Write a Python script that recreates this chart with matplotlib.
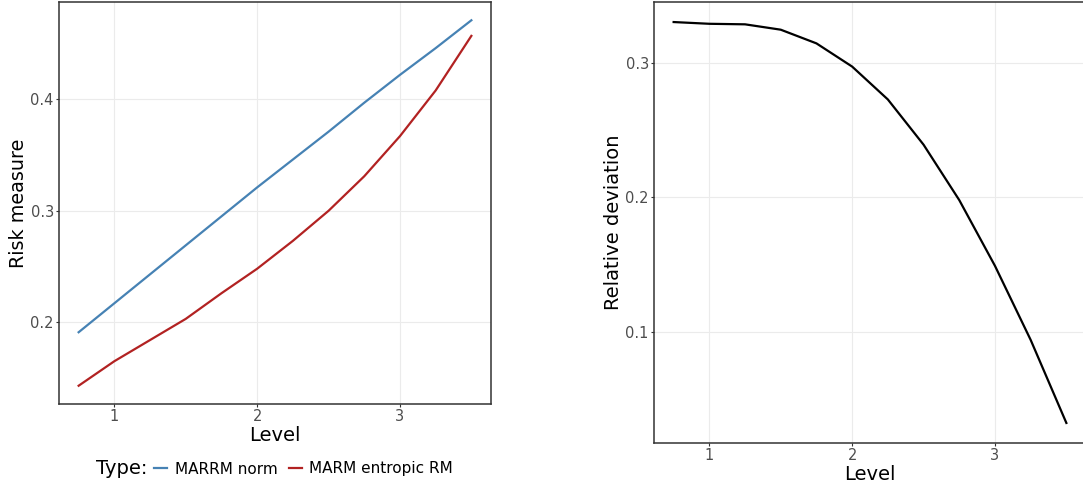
import matplotlib.pyplot as plt
from matplotlib.lines import Line2D

level = [0.75, 1.0, 1.25, 1.5, 1.75, 2.0, 2.25, 2.5, 2.75, 3.0, 3.25, 3.5]
marrm_norm = [0.191, 0.217, 0.243, 0.269, 0.295, 0.321, 0.346, 0.371, 0.397, 0.422, 0.446, 0.471]
marm_entropic = [0.143, 0.165, 0.184, 0.203, 0.226, 0.248, 0.273, 0.300, 0.331, 0.367, 0.408, 0.457]
rel_dev = [0.3307, 0.3294, 0.3290, 0.3250, 0.3148, 0.2975, 0.2730, 0.2393, 0.1980, 0.1490, 0.0938, 0.0319]

series_names = ['MARRM norm', 'MARM entropic RM']
series_colors = ['#4682B4', '#B22222']

W, H = 1083, 488
fig = plt.figure(figsize=(W / 100, H / 100), dpi=100)


def style_axes(ax):
    ax.grid(True, color='#EBEBEB', linewidth=0.8)
    ax.set_axisbelow(True)
    for s in ax.spines.values():
        s.set_color('#333333')
        s.set_linewidth(1.1)
    ax.tick_params(length=2.2, width=0.8, color='#333333', labelcolor='#4D4D4D',
                   labelsize=10.5, pad=1.5)
    ax.set_xticks([1, 2, 3])


def pad_limits(vals):
    lo, hi = min(vals), max(vals)
    d = (hi - lo) * 0.05
    return lo - d, hi + d


# left panel
ax1 = fig.add_axes([59 / W, 1 - 404 / H, (491 - 59) / W, (404 - 2) / H])
style_axes(ax1)
ax1.plot(level, marrm_norm, color=series_colors[0], linewidth=1.6)
ax1.plot(level, marm_entropic, color=series_colors[1], linewidth=1.6)
ax1.set_xlim(pad_limits(level))
ax1.set_ylim(pad_limits(marrm_norm + marm_entropic))
ax1.set_yticks([0.2, 0.3, 0.4])
ax1.set_xlabel('Level', fontsize=14, labelpad=1)
ax1.set_ylabel('Risk measure', fontsize=13.8, labelpad=2)

# legend below left panel
handles = [Line2D([], [], color=c, linewidth=1.6) for c in series_colors]
fig.text(96 / W, 1 - 469 / H, 'Type:', fontsize=14, va='center', ha='left')
fig.legend(handles, series_names, loc='center left', bbox_to_anchor=(154 / W, 1 - 469 / H),
           ncol=2, frameon=False, fontsize=11, handlelength=0.85, handletextpad=0.5,
           columnspacing=0.75, borderaxespad=0, borderpad=0)

# right panel
ax2 = fig.add_axes([654 / W, 1 - 443 / H, (1086 - 654) / W, (443 - 2) / H])
style_axes(ax2)
ax2.plot(level, rel_dev, color='black', linewidth=1.6)
ax2.set_xlim(pad_limits(level))
ax2.set_ylim(pad_limits(rel_dev))
ax2.set_yticks([0.1, 0.2, 0.3])
ax2.set_xlabel('Level', fontsize=14, labelpad=1)
ax2.set_ylabel('Relative deviation', fontsize=14, labelpad=2)

fig.savefig('out.png', dpi=100)
